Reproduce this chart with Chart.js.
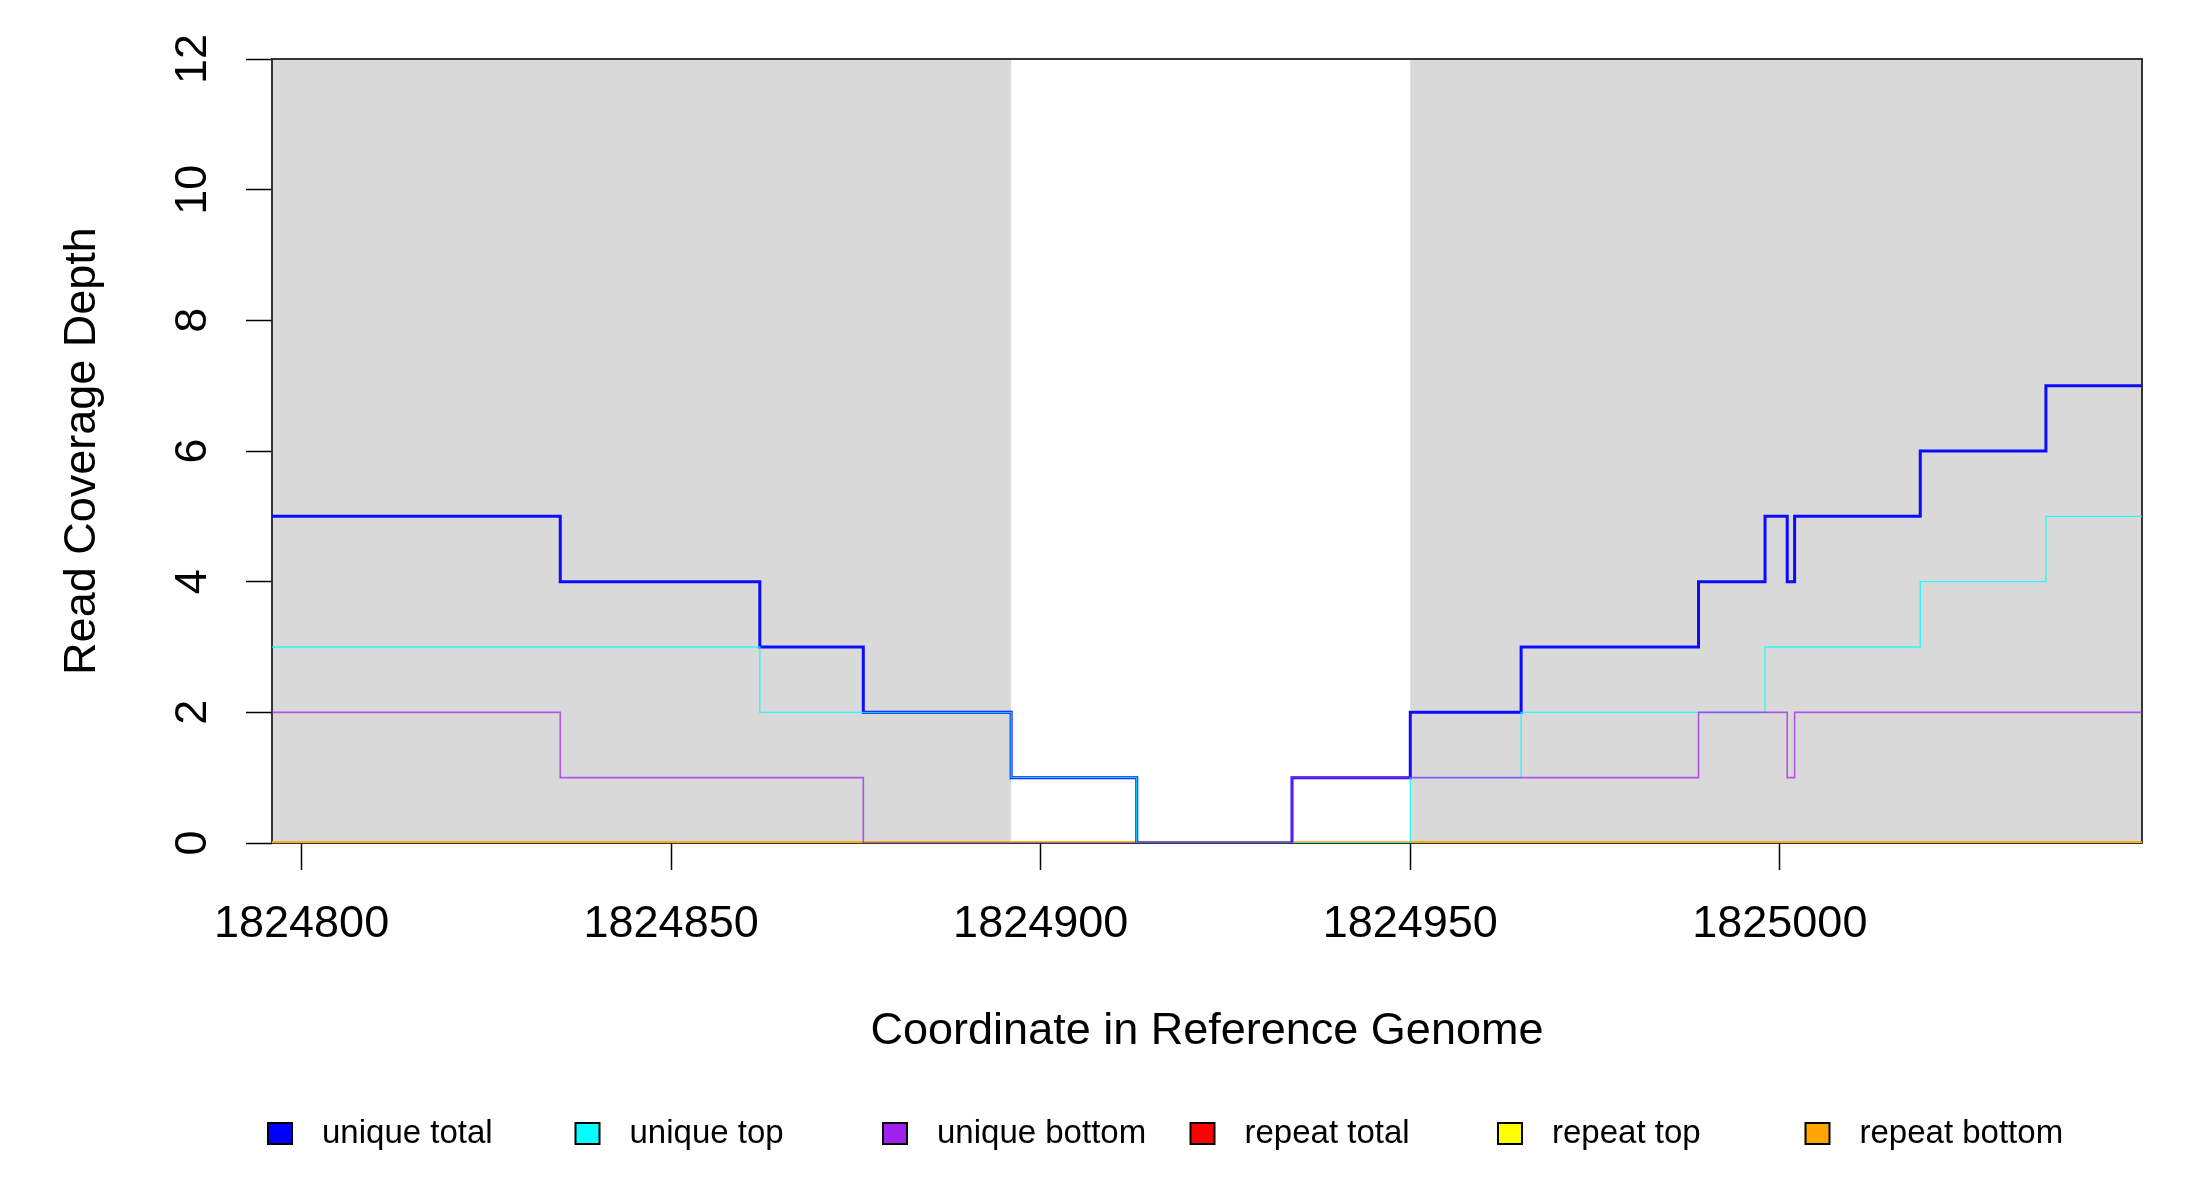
<!DOCTYPE html>
<html>
<head>
<meta charset="utf-8">
<script src="https://cdn.jsdelivr.net/npm/chart.js@4.4.1/dist/chart.umd.min.js"></script>
<style>
  html, body { margin: 0; padding: 0; background: #ffffff; }
  #wrap { width: 2200px; height: 1200px; }
</style>
</head>
<body>
<div id="wrap"><canvas id="c" width="2200" height="1200"></canvas></div>
<script>
// ---- data ----
const breakpoints   = [1824796, 1824835, 1824862, 1824876, 1824896, 1824913, 1824934, 1824950,
                       1824965, 1824989, 1824998, 1825001, 1825002, 1825019, 1825036, 1825049];
const uniqueTotal   = [5, 4, 3, 2, 1, 0, 1, 2, 3, 4, 5, 4, 5, 6, 7, 7];
const uniqueTop     = [3, 3, 2, 2, 1, 0, 0, 1, 2, 2, 3, 3, 3, 4, 5, 5];
const uniqueBottom  = [2, 1, 1, 0, 0, 0, 1, 1, 1, 2, 2, 1, 2, 2, 2, 2];
const repeatTotal   = [0, 0, 0, 0, 0, 0, 0, 0, 0, 0, 0, 0, 0, 0, 0, 0];
const repeatTop     = [0, 0, 0, 0, 0, 0, 0, 0, 0, 0, 0, 0, 0, 0, 0, 0];
const repeatBottom  = [0, 0, 0, 0, 0, 0, 0, 0, 0, 0, 0, 0, 0, 0, 0, 0];
const seriesNames   = ['unique total', 'unique top', 'unique bottom', 'repeat total', 'repeat top', 'repeat bottom'];
const xTicks        = [1824800, 1824850, 1824900, 1824950, 1825000];
const yTicks        = [0, 2, 4, 6, 8, 10, 12];
const xMin = 1824796, xMax = 1825049;
const yMin = 0, yMax = 12;
const shadeStart    = [1824796, 1824950];
const shadeEnd      = [1824896, 1825049];

// ---- styling ----
const FONT = '"Liberation Sans", Arial, Helvetica, sans-serif';
const swatchColors = ['#0000FF', '#00FFFF', '#A020F0', '#FF0000', '#FFFF00', '#FFA500'];
const lineColors = ['rgba(0,0,255,0.95)', 'rgba(0,255,255,0.8)', 'rgba(160,32,240,0.72)',
                    'rgba(255,0,0,0.9)', 'rgba(255,255,0,0.9)', 'rgba(255,165,0,0.9)'];
const lineWidths = [3, 1.4, 1.6, 3, 3, 3];
const drawOrder  = [3, 2, 1, 6, 5, 4];   // higher = drawn earlier
const seriesValues = [uniqueTotal, uniqueTop, uniqueBottom, repeatTotal, repeatTop, repeatBottom];

const datasets = seriesValues.map((vals, i) => ({
  label: seriesNames[i],
  data: breakpoints.map((x, j) => ({ x: x, y: vals[j] })),
  borderColor: lineColors[i],
  backgroundColor: swatchColors[i],
  borderWidth: lineWidths[i],
  stepped: true,
  pointRadius: 0,
  fill: false,
  order: drawOrder[i],
  clip: { left: 0, right: 0, top: 0, bottom: 0 },
  borderCapStyle: 'butt',
  borderJoinStyle: 'miter'
}));

const shadePlugin = {
  id: 'shade',
  beforeDatasetsDraw(chart) {
    const { ctx, chartArea, scales } = chart;
    ctx.save();
    ctx.fillStyle = '#D9D9D9';
    const yTop = scales.y.getPixelForValue(yMax);
    const yBot = scales.y.getPixelForValue(yMin);
    for (let i = 0; i < shadeStart.length; i++) {
      const x1 = scales.x.getPixelForValue(shadeStart[i]);
      const x2 = scales.x.getPixelForValue(shadeEnd[i]);
      ctx.fillRect(x1, yTop, x2 - x1, yBot - yTop);
    }
    ctx.strokeStyle = '#222';
    ctx.lineWidth = 1.8;
    ctx.strokeRect(chartArea.left, chartArea.top, chartArea.right - chartArea.left, chartArea.bottom - chartArea.top);
    ctx.restore();
  }
};

const legendPlugin = {
  id: 'customLegend',
  afterDraw(chart) {
    const { ctx } = chart;
    const cy = 1133.5, x0 = 280, step = 307.5, sw = 24, sh = 21, textGap = 42;
    ctx.save();
    ctx.font = '33px ' + FONT;
    ctx.textBaseline = 'middle';
    ctx.textAlign = 'left';
    for (let i = 0; i < seriesNames.length; i++) {
      const cx = x0 + i * step;
      ctx.fillStyle = swatchColors[i];
      ctx.fillRect(cx - sw / 2, cy - sh / 2, sw, sh);
      ctx.strokeStyle = '#000';
      ctx.lineWidth = 2;
      ctx.strokeRect(cx - sw / 2, cy - sh / 2, sw, sh);
      ctx.fillStyle = '#000';
      ctx.fillText(seriesNames[i], cx + textGap, cy);
    }
    ctx.restore();
  }
};

new Chart(document.getElementById('c'), {
  type: 'line',
  data: { datasets: datasets },
  plugins: [shadePlugin, legendPlugin],
  options: {
    responsive: false,
    animation: false,
    devicePixelRatio: 1,
    layout: { padding: { left: 0, top: 59, right: 58, bottom: 0 } },
    plugins: { legend: { display: false }, tooltip: { enabled: false } },
    scales: {
      x: {
        type: 'linear',
        min: xMin,
        max: xMax,
        afterBuildTicks: (s) => { s.ticks = xTicks.map(v => ({ value: v })); },
        afterFit: (s) => { s.height = 357; },
        border: { display: false },
        grid: { drawOnChartArea: false, drawTicks: true, tickLength: 27, tickColor: '#000', tickWidth: 1.5 },
        ticks: {
          autoSkip: false, maxRotation: 0, minRotation: 0, padding: 28,
          color: '#000', font: { family: FONT, size: 45 },
          callback: (v) => String(v)
        },
        title: {
          display: true, text: 'Coordinate in Reference Genome', color: '#000',
          font: { family: FONT, size: 45 }, padding: { top: 0, bottom: 141 }
        }
      },
      y: {
        type: 'linear',
        min: yMin,
        max: yMax,
        afterBuildTicks: (s) => { s.ticks = yTicks.map(v => ({ value: v })); },
        afterFit: (s) => { s.width = 272; },
        border: { display: false },
        grid: { drawOnChartArea: false, drawTicks: true, tickLength: 26, tickColor: '#000', tickWidth: 1.5 },
        ticks: {
          minRotation: 90, maxRotation: 90, crossAlign: 'center', padding: 27,
          color: '#000', font: { family: FONT, size: 45 },
          callback: (v) => String(v)
        },
        title: {
          display: true, text: 'Read Coverage Depth', color: '#000',
          font: { family: FONT, size: 45 }, padding: { top: 56, bottom: 0 }
        }
      }
    }
  }
});
</script>
</body>
</html>
